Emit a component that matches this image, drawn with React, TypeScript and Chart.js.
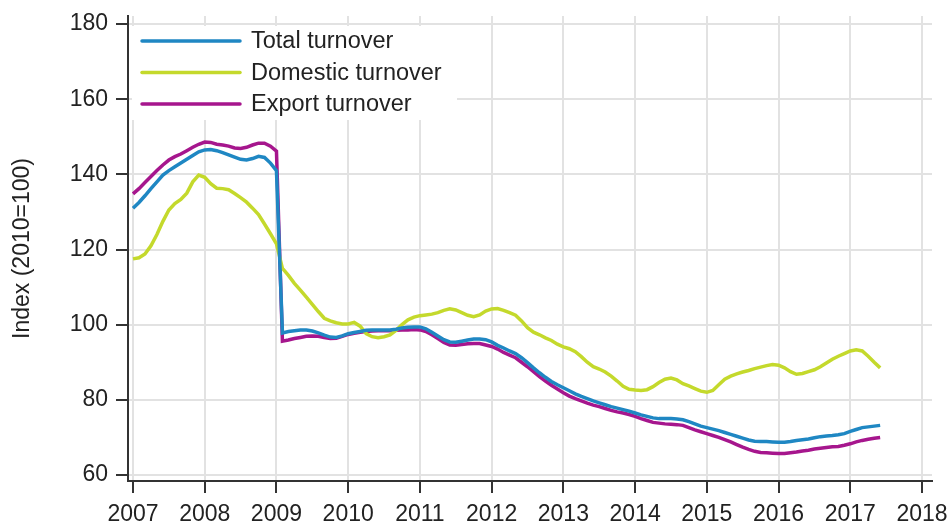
import React, { useEffect, useRef } from "react";
import { Chart, registerables } from "chart.js";

Chart.register(...registerables);

// Monthly data, January 2007 ... June 2017
const FIRST_YEAR = 2007;
const YEAR_TICKS = [2007, 2008, 2009, 2010, 2011, 2012, 2013, 2014, 2015, 2016, 2017, 2018];
const Y_TICKS = [60, 80, 100, 120, 140, 160, 180];
const Y_TITLE = "Index (2010=100)";
const SERIES_LABELS = ["Total turnover", "Domestic turnover", "Export turnover"];
const SERIES_COLORS = ["#1f87c3", "#c4d92c", "#a6168d"];

const totalTurnover = [
  131.0, 132.5, 134.3, 136.2, 138.0, 139.8, 141.0, 142.0, 143.0, 144.0, 145.0, 146.0,
  146.5, 146.6, 146.3, 145.8, 145.2, 144.6, 144.0, 143.8, 144.2, 144.8, 144.5, 143.0,
  141.0, 97.8, 98.2, 98.4, 98.6, 98.6, 98.3, 97.8, 97.2, 96.7, 96.6, 97.0,
  97.6, 97.9, 98.2, 98.5, 98.6, 98.6, 98.6, 98.6, 98.8, 99.1, 99.3, 99.4,
  99.4, 98.9, 98.0, 97.0, 96.0, 95.4, 95.3, 95.6, 95.9, 96.2, 96.2, 96.0,
  95.4, 94.5, 93.8, 93.0, 92.3, 91.2, 89.9, 88.5, 87.2, 86.0, 84.9, 84.0,
  83.2, 82.4, 81.6, 80.9, 80.3, 79.7, 79.2, 78.7, 78.2, 77.8, 77.4, 77.0,
  76.5, 76.0, 75.6, 75.2, 75.0, 75.0, 75.0, 74.9, 74.7, 74.2, 73.6, 73.0,
  72.6, 72.2, 71.8, 71.3, 70.8, 70.3, 69.8, 69.3, 69.0, 68.9, 68.9, 68.8,
  68.7, 68.7, 68.9, 69.2, 69.4, 69.6, 69.9, 70.2, 70.4, 70.5, 70.7, 71.0,
  71.6, 72.1, 72.6, 72.8, 73.0, 73.2,
];

const domesticTurnover = [
  117.5, 117.8, 118.8, 121.0, 124.0, 127.5, 130.5, 132.2, 133.3, 135.0, 138.0, 139.8,
  139.2, 137.5, 136.3, 136.2, 135.9, 134.9, 133.8, 132.6, 131.0, 129.3, 126.8, 124.2,
  121.5, 115.0, 113.1, 111.0, 109.2, 107.3, 105.4, 103.5, 101.7, 101.0, 100.5, 100.2,
  100.2, 100.6, 99.6, 97.6, 96.8, 96.5, 96.8, 97.3, 98.5, 100.0, 101.3, 102.0,
  102.4, 102.6, 102.8, 103.2, 103.8, 104.2, 103.9, 103.2, 102.5, 102.1, 102.6, 103.6,
  104.2, 104.3, 103.8, 103.2, 102.5, 101.0, 99.2, 98.0, 97.3, 96.5, 95.8, 94.8,
  94.1, 93.6, 92.8, 91.5, 90.0, 88.8, 88.2, 87.4, 86.3, 85.0, 83.6, 82.8,
  82.6, 82.5, 82.7, 83.5, 84.6, 85.5, 85.8, 85.3, 84.3, 83.7, 83.0, 82.3,
  82.0, 82.5, 84.0, 85.5, 86.3, 86.9, 87.4, 87.8, 88.3, 88.7, 89.1, 89.4,
  89.2, 88.5, 87.5, 86.8, 87.0, 87.5, 88.0, 88.8, 89.8, 90.8, 91.6, 92.3,
  93.0, 93.3, 93.0, 91.6, 90.0, 88.5,
];

const exportTurnover = [
  134.8, 136.2, 137.8, 139.4, 141.0, 142.5, 143.8, 144.7, 145.4, 146.3, 147.2, 148.0,
  148.6, 148.5, 148.0, 147.8, 147.5, 147.0, 146.9, 147.2, 147.8, 148.3, 148.3, 147.5,
  146.2, 95.6, 95.9, 96.3, 96.6, 96.9, 97.0, 96.9, 96.6, 96.3, 96.4, 96.9,
  97.4, 97.7, 98.0, 98.2, 98.3, 98.4, 98.4, 98.4, 98.5, 98.6, 98.6, 98.7,
  98.6, 98.2, 97.3, 96.3, 95.3, 94.6, 94.5, 94.7, 94.9, 95.0, 95.0, 94.6,
  94.2, 93.5, 92.6, 91.9, 91.2, 90.0, 88.8, 87.5, 86.2, 85.0, 83.9, 82.9,
  81.9, 81.0, 80.3, 79.7, 79.1, 78.6, 78.2, 77.7, 77.2, 76.8, 76.5, 76.1,
  75.6, 75.0, 74.5, 74.0, 73.8, 73.6, 73.5, 73.4, 73.2, 72.6, 72.0, 71.5,
  71.0, 70.5, 70.0, 69.4, 68.8, 68.1, 67.4, 66.8, 66.3, 66.0, 65.9, 65.8,
  65.7, 65.7, 65.9, 66.1, 66.4, 66.6, 66.9, 67.1, 67.3, 67.5, 67.6, 67.9,
  68.3, 68.8, 69.2, 69.5, 69.8, 70.0,
];

const SERIES_VALUES = [totalTurnover, domesticTurnover, exportTurnover];

const FONT = '"Liberation Sans", Arial, sans-serif';
const TEXT_COLOR = "#222222";

const toPoints = (vals: number[]) =>
  vals.map((v, i) => ({ x: FIRST_YEAR + i / 12, y: v }));

const boxLegend = {
  id: "boxLegend",
  afterDatasetsDraw(chart: any) {
    const { ctx, chartArea } = chart;
    const left = chartArea.left;
    const top = chartArea.top;
    ctx.save();
    ctx.fillStyle = "#ffffff";
    ctx.fillRect(left + 4, top + 10, 325, 94);
    chart.data.datasets.forEach((ds: any, i: number) => {
      const y = top + 25 + i * 31.5;
      ctx.strokeStyle = ds.borderColor;
      ctx.lineWidth = 3.5;
      ctx.lineCap = "round";
      ctx.beginPath();
      ctx.moveTo(left + 14, y);
      ctx.lineTo(left + 112, y);
      ctx.stroke();
      ctx.fillStyle = TEXT_COLOR;
      ctx.font = `23.5px ${FONT}`;
      ctx.textBaseline = "middle";
      ctx.textAlign = "left";
      ctx.fillText(ds.label, left + 123, y + 1);
    });
    ctx.restore();
  },
};

export default function App() {
  const canvasRef = useRef<HTMLCanvasElement | null>(null);

  useEffect(() => {
    if (!canvasRef.current) return;
    const chart = new Chart(canvasRef.current, {
      type: "line",
      data: {
        datasets: SERIES_LABELS.map((label, i) => ({
          label,
          data: toPoints(SERIES_VALUES[i]),
          borderColor: SERIES_COLORS[i],
          backgroundColor: SERIES_COLORS[i],
          borderWidth: 3.5,
          pointRadius: 0,
          tension: 0,
          fill: false,
        })),
      },
      options: {
        animation: false,
        responsive: false,
        devicePixelRatio: 1,
        layout: { padding: { left: 0, top: 16, right: 20, bottom: 0 } },
        plugins: {
          legend: { display: false },
          tooltip: { enabled: false },
        },
        scales: {
          x: {
            type: "linear",
            min: 2007 - 5 / 71.7,
            max: 2018 + 10 / 71.7,
            afterBuildTicks: (scale: any) => {
              scale.ticks = YEAR_TICKS.map((v) => ({ value: v }));
            },
            afterFit: (scale: any) => {
              scale.height = 47;
              scale.paddingLeft = 0;
              scale.paddingRight = 0;
            },
            grid: {
              color: "#e2e2e2",
              lineWidth: 2,
              tickColor: "#333333",
              tickWidth: 2,
              tickLength: 12,
            },
            border: { color: "#333333", width: 2 },
            ticks: {
              color: TEXT_COLOR,
              font: { family: FONT, size: 23 },
              padding: 8,
              maxRotation: 0,
              autoSkip: false,
              callback: (v: any) => String(v),
            },
          },
          y: {
            min: 60 - 6 / 3.75,
            max: 180 + 8 / 3.75,
            afterBuildTicks: (scale: any) => {
              scale.ticks = Y_TICKS.map((v) => ({ value: v }));
            },
            afterFit: (scale: any) => {
              scale.width = 128;
              scale.paddingTop = 0;
              scale.paddingBottom = 0;
            },
            grid: {
              color: "#e2e2e2",
              lineWidth: 2,
              tickColor: "#333333",
              tickWidth: 2,
              tickLength: 12,
            },
            border: { color: "#333333", width: 2 },
            ticks: {
              color: TEXT_COLOR,
              font: { family: FONT, size: 23 },
              padding: 8,
              callback: (v: any) => String(v),
            },
            title: {
              display: true,
              text: Y_TITLE,
              color: TEXT_COLOR,
              font: { family: FONT, size: 23 },
              padding: { top: 9, bottom: 0 },
            },
          },
        },
      },
      plugins: [boxLegend],
    });
    return () => chart.destroy();
  }, []);

  return (
    <div style={{ position: "absolute", left: 0, top: 0, width: 952, height: 528, background: "#fff" }}>
      <canvas ref={canvasRef} width={952} height={528} style={{ display: "block" }} />
    </div>
  );
}
